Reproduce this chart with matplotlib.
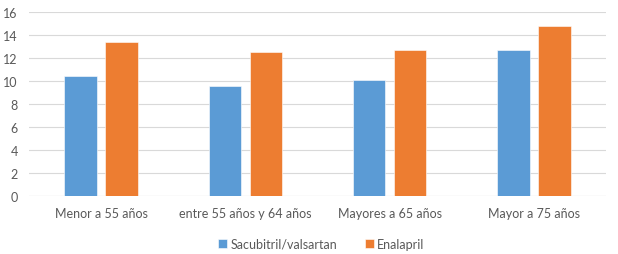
import numpy as np
import matplotlib
matplotlib.use('Agg')
import matplotlib.pyplot as plt

categorias = ['Menor a 55 años', 'entre 55 años y 64 años', 'Mayores a 65 años', 'Mayor a 75 años']
sacubitril = [10.4, 9.6, 10.1, 12.7]
enalapril = [13.4, 12.5, 12.7, 14.8]
series_names = ['Sacubitril/valsartan', 'Enalapril']
yticks = [0, 2, 4, 6, 8, 10, 12, 14, 16]

plt.rcParams['font.family'] = ['Lato', 'DejaVu Sans']
fig = plt.figure(figsize=(6.18, 2.55), dpi=100)
ax = fig.add_axes([29/618, 1 - 197/255, 577/618, 184/255])

x = np.arange(len(categorias))
w = 0.225
ax.bar(x - 0.1425, sacubitril, w, color='#5B9BD5', edgecolor='white', linewidth=0.4, label=series_names[0], zorder=3)
ax.bar(x + 0.1425, enalapril, w, color='#ED7D31', edgecolor='white', linewidth=0.4, label=series_names[1], zorder=3)

ax.set_xlim(-0.5, 3.5)
ax.set_ylim(0, 16)
ax.set_yticks(yticks)
ax.set_xticks(x)
ax.set_xticklabels(categorias)
ax.grid(axis='y', color='#D9D9D9', linewidth=0.8, zorder=0)
for s in ax.spines.values():
    s.set_visible(False)
ax.axhline(0, color='#D9D9D9', linewidth=0.8, zorder=1)
ax.tick_params(axis='both', length=0, labelsize=9, colors='#595959')
ax.tick_params(axis='x', pad=8)
ax.tick_params(axis='y', pad=8)

fig.legend(loc='center', bbox_to_anchor=(0.52, 1 - 245/255), ncol=2, frameon=False,
           fontsize=9, labelcolor='#595959', handlelength=0.7, handleheight=0.7,
           handletextpad=0.3, columnspacing=2.2)

fig.savefig('out.png', dpi=100)
